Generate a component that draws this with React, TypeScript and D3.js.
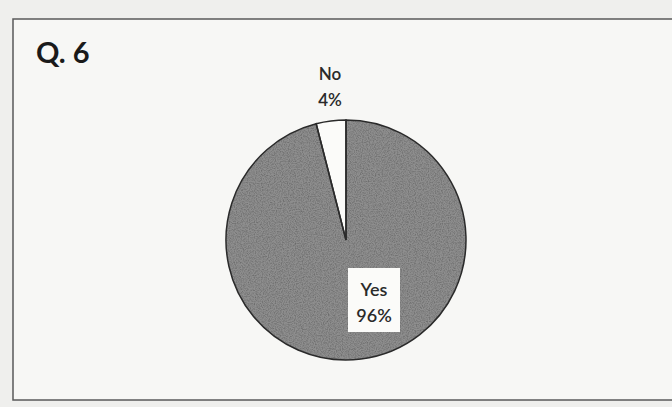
import * as d3 from 'd3';
import { useEffect, useRef } from 'react';

const categories = ['Yes', 'No'];
const values = [96, 4];
const sliceColors = ['#8e8e8e', '#fbfbf9'];

const W = 672;
const H = 407;

const App = () => {
  const ref = useRef<SVGSVGElement | null>(null);

  useEffect(() => {
    if (!ref.current) return;
    const svg = d3.select(ref.current);
    svg.selectAll('*').remove();

    const font = 'Lato, "Open Sans", sans-serif';
    const cx = 346;
    const cy = 240;
    const radius = 120;

    // speckle noise, clipped to the drawn shape
    const defs = svg.append('defs');
    const noise = defs
      .append('filter')
      .attr('id', 'grain')
      .attr('x', 0)
      .attr('y', 0)
      .attr('width', '100%')
      .attr('height', '100%');
    noise
      .append('feTurbulence')
      .attr('type', 'fractalNoise')
      .attr('baseFrequency', 0.85)
      .attr('numOctaves', 2)
      .attr('seed', 3)
      .attr('result', 'n');
    noise
      .append('feColorMatrix')
      .attr('in', 'n')
      .attr('type', 'matrix')
      .attr('values', '0 0 0 0 0  0 0 0 0 0  0 0 0 0 0  0 0 0 -1.6 1.0')
      .attr('result', 'dots');
    noise
      .append('feComposite')
      .attr('in', 'dots')
      .attr('in2', 'SourceAlpha')
      .attr('operator', 'in');

    svg.append('rect').attr('width', W).attr('height', H).attr('fill', '#efefed');

    // frame
    svg
      .append('rect')
      .attr('x', 13)
      .attr('y', 19)
      .attr('width', W)
      .attr('height', 381)
      .attr('fill', '#f7f7f5')
      .attr('stroke', '#5a5a5a')
      .attr('stroke-width', 1.5);

    svg
      .append('text')
      .attr('x', 36)
      .attr('y', 63)
      .attr('font-family', font)
      .attr('font-weight', 700)
      .attr('font-size', 29)
      .attr('fill', '#1a1a1a')
      .text('Q. 6');

    const pie = d3.pie<number>().sort(null).value((d) => d);
    const arcs = pie(values);
    const arc = d3.arc<d3.PieArcDatum<number>>().innerRadius(0).outerRadius(radius);

    const g = svg.append('g').attr('transform', `translate(${cx},${cy})`);

    g.selectAll('path.slice')
      .data(arcs)
      .join('path')
      .attr('class', 'slice')
      .attr('d', arc)
      .attr('fill', (_, i) => sliceColors[i]);

    // speckle texture over the grey slice
    g.append('path')
      .attr('d', arc(arcs[0]))
      .attr('fill', '#000')
      .attr('filter', 'url(#grain)')
      .attr('opacity', 0.3)
      .attr('pointer-events', 'none');

    g.selectAll('path.outline')
      .data(arcs)
      .join('path')
      .attr('class', 'outline')
      .attr('d', arc)
      .attr('fill', 'none')
      .attr('stroke', '#2a2a2a')
      .attr('stroke-width', 1.5);

    // No label (outside, above)
    const noLabel = svg
      .append('text')
      .attr('text-anchor', 'middle')
      .attr('font-family', font)
      .attr('font-weight', 600)
      .attr('font-size', 17)
      .attr('fill', '#2a2a2a');
    noLabel.append('tspan').attr('x', 330).attr('y', 80).text(categories[1]);
    noLabel.append('tspan').attr('x', 330).attr('y', 106).text(`${values[1]}%`);

    // Yes label (white box inside)
    svg
      .append('rect')
      .attr('x', 348)
      .attr('y', 268)
      .attr('width', 52)
      .attr('height', 64)
      .attr('fill', '#fbfbf9');
    const yesLabel = svg
      .append('text')
      .attr('text-anchor', 'middle')
      .attr('font-family', font)
      .attr('font-weight', 600)
      .attr('font-size', 18)
      .attr('fill', '#2a2a2a');
    yesLabel.append('tspan').attr('x', 374).attr('y', 296).text(categories[0]);
    yesLabel.append('tspan').attr('x', 374).attr('y', 322).text(`${values[0]}%`);
  }, []);

  return (
    <svg
      ref={ref}
      width={W}
      height={H}
      style={{ position: 'absolute', left: 0, top: 0, display: 'block' }}
    />
  );
};

export default App;
